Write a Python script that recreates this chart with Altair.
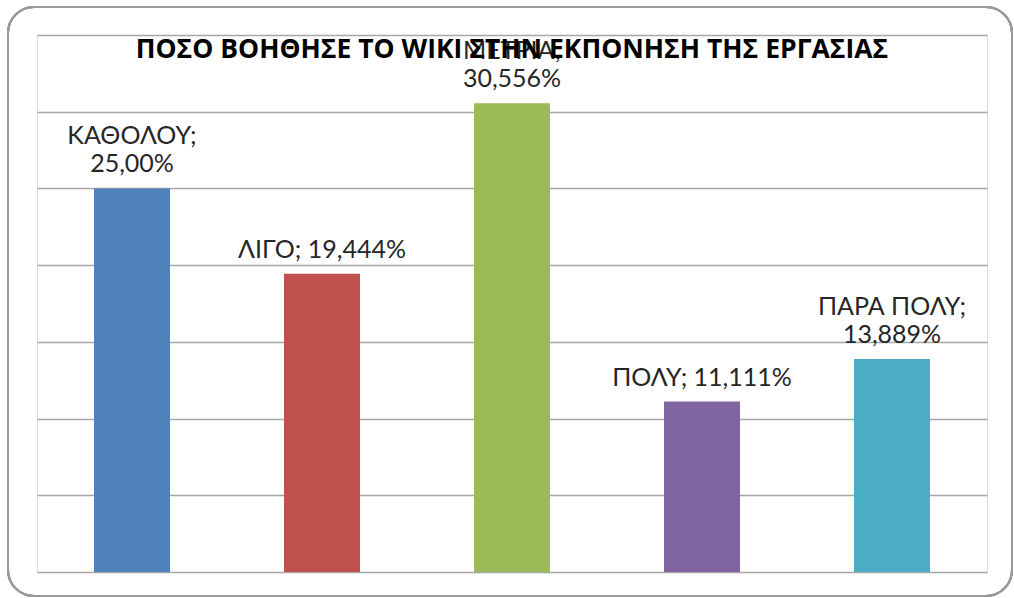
import altair as alt
import pandas as pd

categories = ["ΚΑΘΟΛΟΥ", "ΛΙΓΟ", "ΜΕΤΡΙΑ", "ΠΟΛΎ", "ΠΑΡΑ ΠΟΛΥ"]
values = [25.000, 19.444, 30.556, 11.111, 13.889]
value_texts = ["25,00%", "19,444%", "30,556%", "11,111%", "13,889%"]
two_line = [True, False, True, False, True]
colors = ["#4F81BD", "#C0504D", "#9BBB59", "#8064A2", "#4BACC6"]
title_text = "ΠΟΣΟ ΒΟΗΘΗΣΕ ΤΟ WIKI ΣΤΗΝ ΕΚΠΟΝΗΣΗ ΤΗΣ ΕΡΓΑΣΙΑΣ"

upper = [f"{c};" if tl else "" for c, tl in zip(categories, two_line)]
lower = [t if tl else f"{c}; {t}" for c, t, tl in zip(categories, value_texts, two_line)]
df = pd.DataFrame({"cat": categories, "val": values, "upper": upper, "lower": lower})
title_df = pd.DataFrame({"t": [title_text]})

W, H = 950, 537
FONT = "Lato"
LBL = dict(font=FONT, fontSize=25, color="#262626", baseline="alphabetic", align="center")

x = alt.X("cat:N", sort=categories, axis=None,
          scale=alt.Scale(paddingInner=0.6, paddingOuter=0.3))
y = alt.Y("val:Q", scale=alt.Scale(domain=[0, 35], nice=False),
          axis=alt.Axis(values=[0, 5, 10, 15, 20, 25, 30, 35], grid=True,
                        gridColor="#A6A6A6", gridWidth=1.5, labels=False,
                        ticks=False, domain=False, title=None))

frame = alt.Chart(df).mark_rect(
    fill="transparent", stroke="#9A9A9A", strokeWidth=2, cornerRadius=26, clip=False
).encode(x=alt.value(-29), x2=alt.value(975), y=alt.value(-28), y2=alt.value(561))

bars = alt.Chart(df).mark_bar().encode(
    x=x, y=y,
    color=alt.Color("cat:N", sort=categories,
                    scale=alt.Scale(domain=categories, range=colors), legend=None),
)

text_lower = alt.Chart(df).mark_text(dy=-16, **LBL).encode(x=x, y=y, text="lower:N")
text_upper = alt.Chart(df).mark_text(dy=-44, **LBL).encode(x=x, y=y, text="upper:N")

title = alt.Chart(title_df).mark_text(
    font="Open Sans", fontSize=26.5, fontWeight="bold", color="#000000",
    align="center", baseline="alphabetic",
).encode(x=alt.value(475), y=alt.value(23), text="t:N")

chart = alt.layer(frame, bars, text_lower, text_upper, title).properties(
    width=W, height=H,
    autosize="none",
    padding={"left": 37, "top": 35, "right": 27, "bottom": 26},
).configure_view(stroke=None).configure(background="white")

chart.save("out.html", embed_options={"renderer": "svg", "actions": False})
